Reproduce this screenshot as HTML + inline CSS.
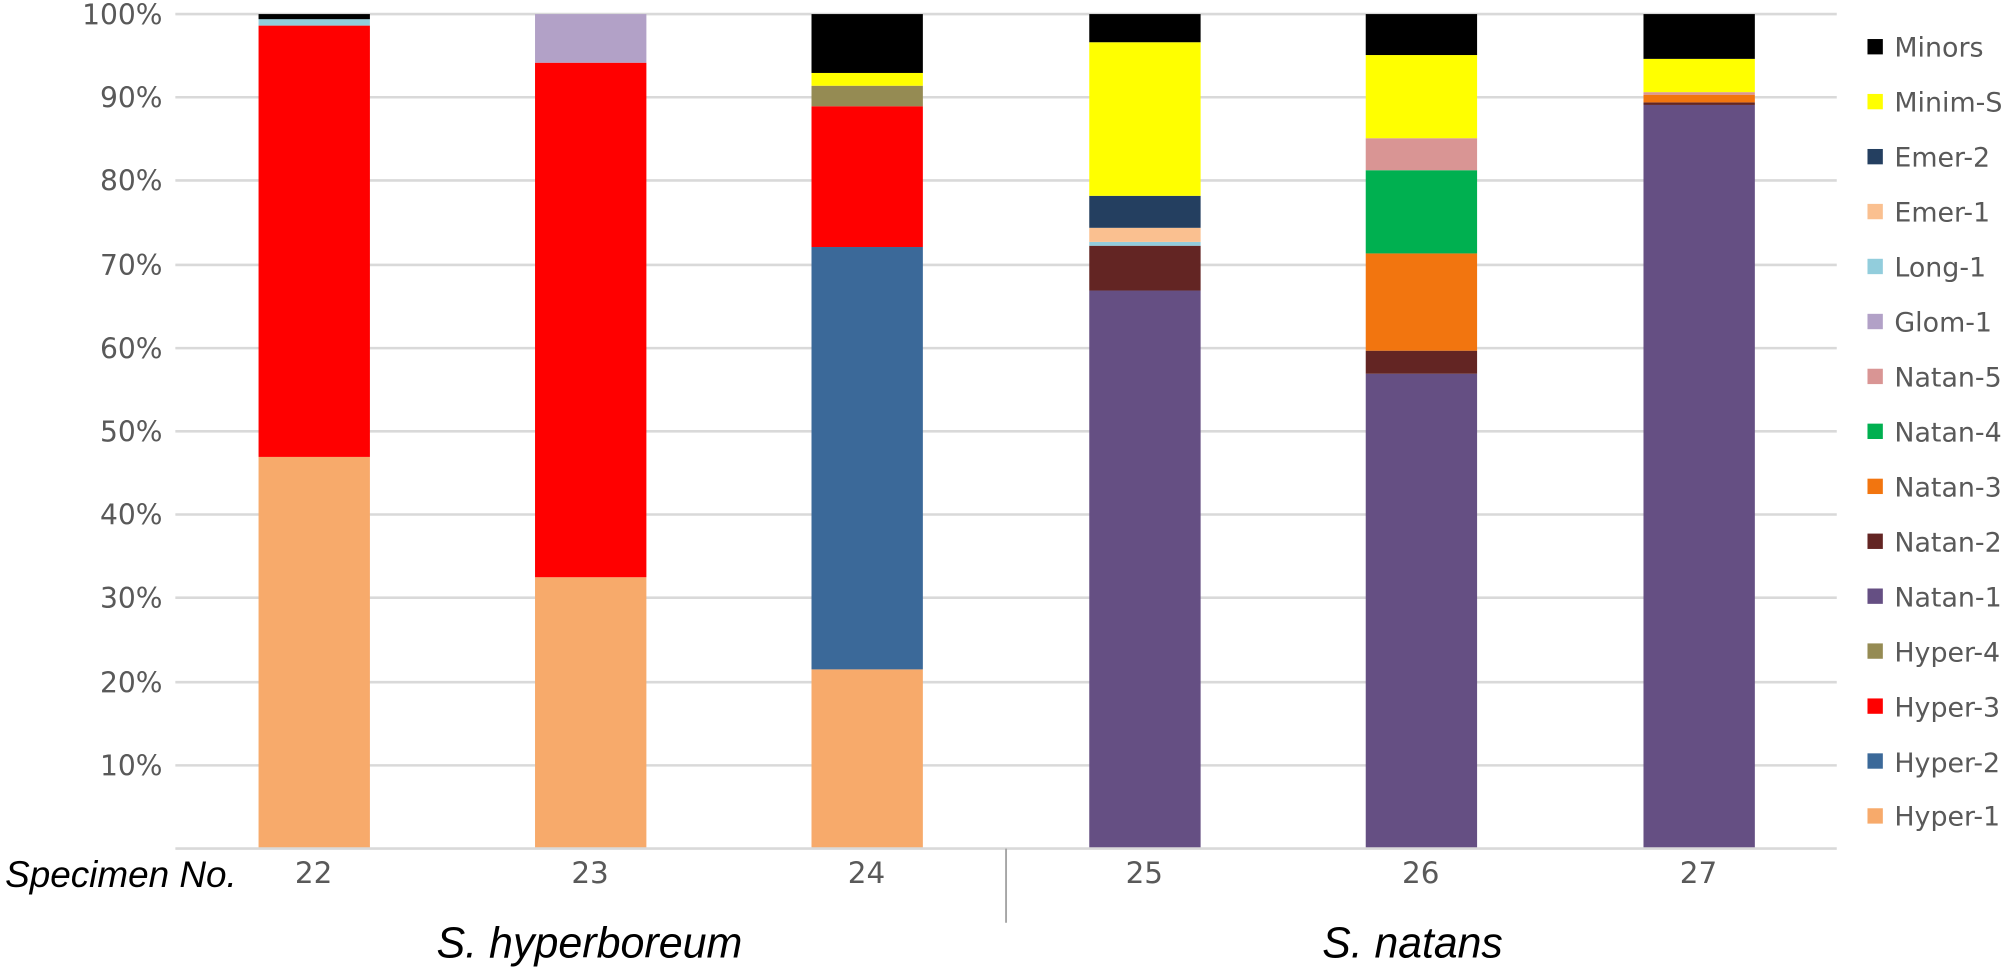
<!DOCTYPE html>
<html><head><meta charset="utf-8"><style>
body{margin:0;background:#fff}
svg{display:block}
svg text{font-family:"DejaVu Sans","Liberation Sans",sans-serif}
</style></head><body>
<svg width="2007" height="974" viewBox="0 0 1568 761" preserveAspectRatio="none" xmlns="http://www.w3.org/2000/svg">
<g stroke="#d9d9d9" stroke-width="2">
<line x1="137" x2="1435" y1="11" y2="11"/><line x1="137" x2="1435" y1="76" y2="76"/>
<line x1="137" x2="1435" y1="141" y2="141"/><line x1="137" x2="1435" y1="207" y2="207"/>
<line x1="137" x2="1435" y1="272" y2="272"/><line x1="137" x2="1435" y1="337" y2="337"/>
<line x1="137" x2="1435" y1="402" y2="402"/><line x1="137" x2="1435" y1="467" y2="467"/>
<line x1="137" x2="1435" y1="533" y2="533"/><line x1="137" x2="1435" y1="598" y2="598"/>
</g>
<g font-size="22" fill="#595959" text-anchor="end">
<text x="127" y="19">100%</text><text x="127" y="84">90%</text><text x="127" y="149">80%</text>
<text x="127" y="215">70%</text><text x="127" y="280">60%</text><text x="127" y="345">50%</text>
<text x="127" y="410">40%</text><text x="127" y="475">30%</text><text x="127" y="541">20%</text>
<text x="127" y="606">10%</text>
</g>
<rect x="202" y="357" width="87" height="306" fill="#f7aa6b"/>
<rect x="202" y="20" width="87" height="337" fill="#ff0000"/>
<rect x="202" y="15" width="87" height="5" fill="#92cddc"/>
<rect x="202" y="11" width="87" height="4" fill="#000"/>
<rect x="418" y="451" width="87" height="212" fill="#f7aa6b"/>
<rect x="418" y="49" width="87" height="402" fill="#ff0000"/>
<rect x="418" y="11" width="87" height="38" fill="#b2a1c7"/>
<rect x="634" y="523" width="87" height="140" fill="#f7aa6b"/>
<rect x="634" y="193" width="87" height="330" fill="#3b6999"/>
<rect x="634" y="83" width="87" height="110" fill="#ff0000"/>
<rect x="634" y="67" width="87" height="16" fill="#958b53"/>
<rect x="634" y="57" width="87" height="10" fill="#ffff00"/>
<rect x="634" y="11" width="87" height="46" fill="#000"/>
<rect x="851" y="227" width="87" height="436" fill="#654f83"/>
<rect x="851" y="192" width="87" height="35" fill="#632523"/>
<rect x="851" y="189" width="87" height="3" fill="#92cddc"/>
<rect x="851" y="178" width="87" height="11" fill="#fac090"/>
<rect x="851" y="153" width="87" height="25" fill="#243f60"/>
<rect x="851" y="33" width="87" height="120" fill="#ffff00"/>
<rect x="851" y="11" width="87" height="22" fill="#000"/>
<rect x="1067" y="292" width="87" height="371" fill="#654f83"/>
<rect x="1067" y="274" width="87" height="18" fill="#632523"/>
<rect x="1067" y="198" width="87" height="76" fill="#f2750f"/>
<rect x="1067" y="133" width="87" height="65" fill="#00b050"/>
<rect x="1067" y="108" width="87" height="25" fill="#d99594"/>
<rect x="1067" y="43" width="87" height="65" fill="#ffff00"/>
<rect x="1067" y="11" width="87" height="32" fill="#000"/>
<rect x="1284" y="82" width="87" height="581" fill="#654f83"/>
<rect x="1284" y="80" width="87" height="2" fill="#632523"/>
<rect x="1284" y="74" width="87" height="6" fill="#f2750f"/>
<rect x="1284" y="72" width="87" height="2" fill="#d99594"/>
<rect x="1284" y="46" width="87" height="26" fill="#ffff00"/>
<rect x="1284" y="11" width="87" height="35" fill="#000"/>
<line x1="137" x2="1435" y1="663" y2="663" stroke="#d9d9d9" stroke-width="2"/>
<line x1="786" x2="786" y1="663" y2="721" stroke="#a6a6a6" stroke-width="1.5"/>
<g font-size="23" fill="#595959" text-anchor="middle">
<text x="245" y="690">22</text><text x="461" y="690">23</text><text x="677" y="690">24</text>
<text x="894" y="690">25</text><text x="1110" y="690">26</text><text x="1327" y="690">27</text>
</g>
<text x="4" y="693" font-size="29" font-style="italic" fill="#000" textLength="181" lengthAdjust="spacingAndGlyphs" style="font-family:'Liberation Sans',sans-serif">Specimen No.</text>
<text x="341" y="748" font-size="34" font-style="italic" fill="#000" textLength="239" lengthAdjust="spacingAndGlyphs" style="font-family:'Liberation Sans',sans-serif">S. hyperboreum</text>
<text x="1033" y="748" font-size="34" font-style="italic" fill="#000" textLength="141" lengthAdjust="spacingAndGlyphs" style="font-family:'Liberation Sans',sans-serif">S. natans</text>
<g font-size="21" fill="#595959">
<rect x="1459" y="30.5" width="12" height="12" fill="#000"/><text x="1480" y="44">Minors</text>
<rect x="1459" y="73.4" width="12" height="12" fill="#ffff00"/><text x="1480" y="87">Minim-S</text>
<rect x="1459" y="116.4" width="12" height="12" fill="#243f60"/><text x="1480" y="130">Emer-2</text>
<rect x="1459" y="159.3" width="12" height="12" fill="#fac090"/><text x="1480" y="173">Emer-1</text>
<rect x="1459" y="202.2" width="12" height="12" fill="#92cddc"/><text x="1480" y="216">Long-1</text>
<rect x="1459" y="245.2" width="12" height="12" fill="#b2a1c7"/><text x="1480" y="259">Glom-1</text>
<rect x="1459" y="288.1" width="12" height="12" fill="#d99594"/><text x="1480" y="302">Natan-5</text>
<rect x="1459" y="331" width="12" height="12" fill="#00b050"/><text x="1480" y="345">Natan-4</text>
<rect x="1459" y="374" width="12" height="12" fill="#f2750f"/><text x="1480" y="388">Natan-3</text>
<rect x="1459" y="416.9" width="12" height="12" fill="#632523"/><text x="1480" y="431">Natan-2</text>
<rect x="1459" y="459.8" width="12" height="12" fill="#654f83"/><text x="1480" y="474">Natan-1</text>
<rect x="1459" y="502.7" width="12" height="12" fill="#958b53"/><text x="1480" y="517">Hyper-4</text>
<rect x="1459" y="545.7" width="12" height="12" fill="#ff0000"/><text x="1480" y="560">Hyper-3</text>
<rect x="1459" y="588.6" width="12" height="12" fill="#3b6999"/><text x="1480" y="603">Hyper-2</text>
<rect x="1459" y="631.5" width="12" height="12" fill="#f7aa6b"/><text x="1480" y="645">Hyper-1</text>
</g>
</svg>
</body></html>
